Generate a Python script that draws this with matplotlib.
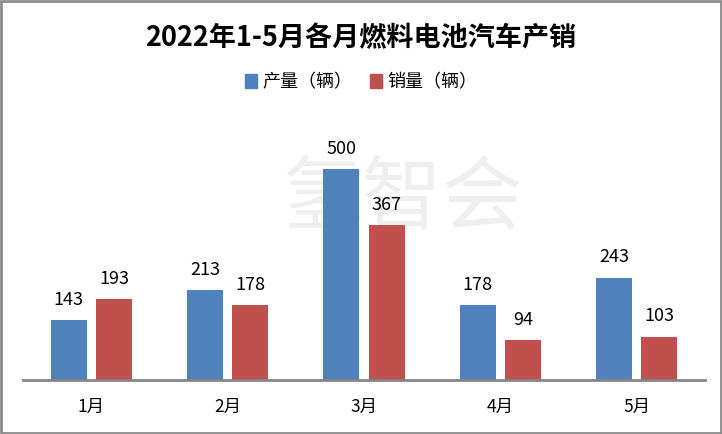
import matplotlib
matplotlib.use("Agg")
import matplotlib.pyplot as plt
import matplotlib.patches as mpatches
import numpy as np

plt.rcParams["font.family"] = ["Noto Sans CJK SC", "DejaVu Sans"]

# ---- data -------------------------------------------------------------------
months = ["1月", "2月", "3月", "4月", "5月"]
production = [143, 213, 500, 178, 243]
sales = [193, 178, 367, 94, 103]
series_names = ["产量（辆）", "销量（辆）"]

BLUE = "#4F81BD"
RED = "#C0504D"
AXIS = "#868686"

fig = plt.figure(figsize=(7.22, 4.34), dpi=100)
ax = fig.add_axes([0.032, 0.1244, 0.9445, 0.583])

x = np.arange(len(months))
bw = 0.264
off = 0.166
b1 = ax.bar(x - off, production, bw, color=BLUE, zorder=2)
b2 = ax.bar(x + off, sales, bw, color=RED, zorder=2)

for bars, vals in ((b1, production), (b2, sales)):
    for bar, v in zip(bars, vals):
        ax.annotate(str(v), (bar.get_x() + bar.get_width() / 2, v),
                    xytext=(0, 8), textcoords="offset points",
                    ha="center", va="bottom", fontsize=13, color="black",
                    zorder=4)

ax.set_xlim(-0.5, len(months) - 0.5)
ax.set_ylim(0, 600)
ax.set_yticks([])
ax.set_xticks(x)
ax.set_xticklabels(months, fontsize=12.5)
ax.tick_params(axis="x", length=0, pad=13)
for sp in ("top", "right", "left"):
    ax.spines[sp].set_visible(False)
ax.spines["bottom"].set_color(AXIS)
ax.spines["bottom"].set_linewidth(2)

# watermark, behind bars and labels
ax.text(0.557, 0.54, "氢智会", fontsize=58, color="#efefef",
        ha="center", va="center", zorder=0, transform=fig.transFigure)

fig.text(0.5, 0.912, "2022年1-5月各月燃料电池汽车产销", fontsize=19.5,
         fontweight="bold", ha="center", va="center")

handles = [mpatches.Patch(color=BLUE, label=series_names[0]),
           mpatches.Patch(color=RED, label=series_names[1])]
fig.legend(handles=handles, loc="center", bbox_to_anchor=(0.5, 0.81),
           ncol=2, frameon=False, fontsize=13, handlelength=0.65,
           handleheight=0.85, handletextpad=0.3, columnspacing=1.0)

# figure border
fig.patches.append(mpatches.Rectangle((0.002, 0.003), 0.996, 0.994,
                                      transform=fig.transFigure, fill=False,
                                      edgecolor="#8c8c8c", linewidth=2))

fig.savefig("out.png", dpi=100)
